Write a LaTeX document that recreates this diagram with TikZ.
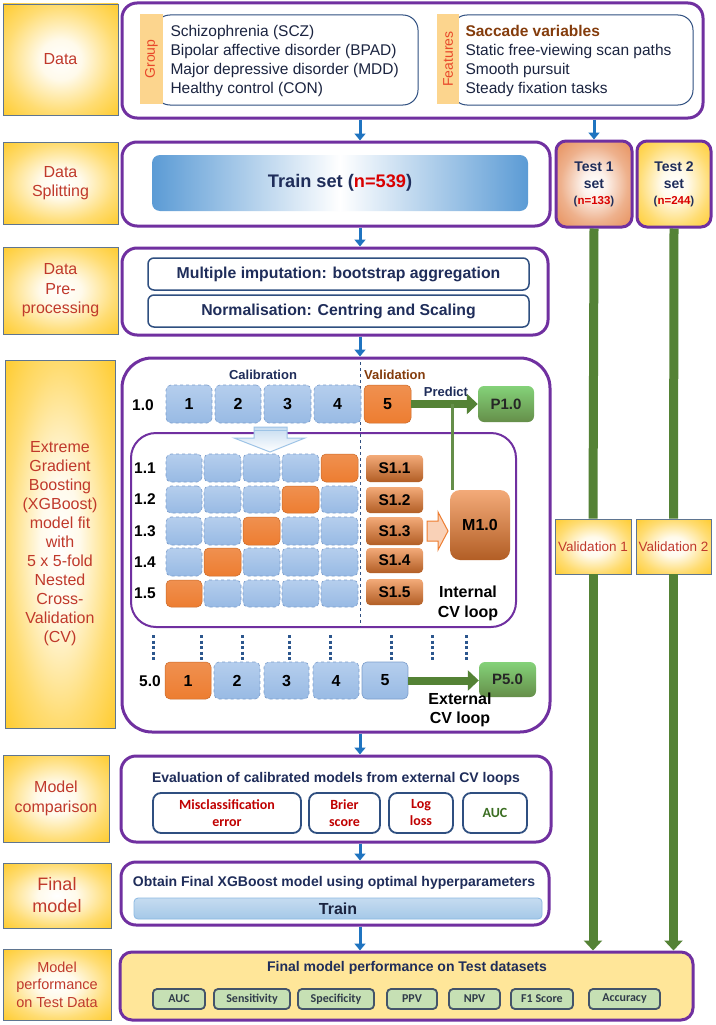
\documentclass[tikz,border=0pt]{standalone}
\usepackage{fontspec}
\usepackage{graphicx}
\setmainfont{Liberation Sans}
\newfontfamily\calib{Carlito}
\usetikzlibrary{arrows.meta}
\definecolor{purp}{HTML}{7030A0}
\definecolor{lblred}{HTML}{C0392B}
\definecolor{navy}{HTML}{1F2D5A}
\definecolor{txtnavy}{HTML}{1B2440}
\definecolor{gold}{HTML}{FFC000}
\definecolor{salmon}{HTML}{E5874F}
\definecolor{arrblue}{HTML}{1F74C0}
\definecolor{grn}{HTML}{548235}
\definecolor{orng}{HTML}{ED7D31}
\definecolor{brn}{HTML}{843C0C}
\definecolor{boxnavy}{HTML}{2F4F80}
\definecolor{lblborder}{HTML}{5F7590}
\definecolor{tabfill}{HTML}{FCD58E}
\definecolor{tabtext}{HTML}{E8472A}
\definecolor{perffill}{HTML}{FFE699}
\definecolor{metfill}{HTML}{C6E0B4}
\definecolor{metedge}{HTML}{44546A}
\definecolor{redtxt}{HTML}{C00000}
\definecolor{grntxt}{HTML}{3B6E22}
\definecolor{trainblue}{HTML}{5B9BD5}
\definecolor{foldtop}{HTML}{B5CEED}
\definecolor{foldbot}{HTML}{98BAE4}
\definecolor{foldedge}{HTML}{7A9CCB}
\pgfdeclareradialshading{glowgold}{\pgfpoint{0bp}{0bp}}{color(0bp)=(white); color(9bp)=(white!92!gold); color(24bp)=(gold!55!white); color(40bp)=(gold!92!white); color(50bp)=(gold)}
\pgfdeclareradialshading{gloworange}{\pgfpoint{0bp}{0bp}}{color(0bp)=(white); color(8bp)=(white!88!salmon); color(22bp)=(salmon!65!white); color(36bp)=(salmon!95!white); color(50bp)=(salmon)}
\newcommand\B[6]{\node[inner sep=0pt,#1,minimum width={(#4)-(#2)},minimum height={(#5)-(#3)}] (#6) at ({((#2)+(#4))/2},{((#3)+(#5))/2})}
\begin{document}
\begin{tikzpicture}[x=1pt,y=-1pt,
  lbl/.style={shading=glowgold,draw=lblborder,line width=0.8pt,text=lblred,align=center,font=\fontsize{16}{19.5}\selectfont},
  pbox/.style={draw=purp,line width=3pt,rounded corners=15pt,fill=white},
  ibox/.style={draw=boxnavy,line width=1.5pt,rounded corners=6pt,fill=white,text=navy,font=\bfseries\fontsize{15.8}{19}\selectfont},
  gbox/.style={draw=boxnavy,line width=1pt,rounded corners=15pt,fill=white},
  tabbox/.style={fill=tabfill,text=tabtext,font=\fontsize{14}{14}\selectfont},
  listtxt/.style={anchor=west,align=left,text=txtnavy,font=\fontsize{15.5}{19}\selectfont},
  testbox/.style={draw=purp,line width=3pt,rounded corners=10pt,text=navy,align=center,font=\bfseries\fontsize{14}{17}\selectfont},
  valbox/.style={shading=glowgold,draw=lblborder,line width=0.8pt,text=lblred,font=\fontsize{13.5}{15}\selectfont},
  fbl/.style={draw=foldedge,dashed,line width=0.6pt,top color=foldtop,bottom color=foldbot,rounded corners=5pt,font=\bfseries\fontsize{16}{16}\selectfont},
  forg/.style={draw=orng!85!black,line width=0.5pt,top color=orng!85!white,bottom color=orng,rounded corners=5pt,font=\bfseries\fontsize{16}{16}\selectfont},
  sbox/.style={top color=orng!65!white,bottom color=orng!75!black,rounded corners=4pt,font=\bfseries\fontsize{15.5}{16}\selectfont},
  pgrn/.style={top color=grn!60!green!60!white,bottom color=grn!90!white,rounded corners=6pt,text=black!85,font=\bfseries\fontsize{15}{16}\selectfont},
  rowlbl/.style={font=\bfseries\fontsize{15.5}{16}\selectfont},
  mbox/.style={draw=boxnavy,line width=1.8pt,rounded corners=8pt,fill=white,align=center,font=\calib\bfseries\fontsize{14}{17}\selectfont},
  pmet/.style={fill=metfill,draw=metedge,line width=1.8pt,rounded corners=4pt,text=metedge!70!black,font=\calib\bfseries\fontsize{12}{12}\selectfont},
  barrow/.style={draw=arrblue,line width=3pt,-{Triangle[length=7pt,width=11pt]}},
  garrow/.style={draw=grn,line width=9pt,-{Triangle[length=10pt,width=18pt]}},
  gline/.style={draw=grn,line width=9pt},
  parrow/.style={draw=grn,line width=8pt,-{Triangle[length=11pt,width=20pt]}},
  dotline/.style={draw=boxnavy!80!arrblue,line width=3pt,dash pattern=on 3pt off 2.5pt}
]
\useasboundingbox (0,0) rectangle (715,1025);
\fill[white] (0,0) rectangle (715,1025);
\coordinate (ax) at (360,0);

% ---------- left labels
\B{lbl}{3}{4}{118}{115}{Ldata} {Data};
\B{lbl}{3}{142}{118}{224}{Lsplit} {Data\\Splitting};
\B{lbl}{3}{247}{118}{334}{Lpre} {Data\\Pre-\\processing};
\B{lbl,font=\fontsize{16}{19}\selectfont}{5}{360}{115}{728}{Lxgb} {Extreme\\Gradient\\Boosting\\(XGBoost)\\model fit\\with\\5 x 5-fold\\Nested\\Cross-\\Validation\\(CV)};
\B{lbl}{3}{755}{109}{842}{Lmc} {Model\\comparison};
\B{lbl,font=\fontsize{18}{22}\selectfont}{3}{863}{111}{928}{Lfin} {Final\\model};
\B{lbl,font=\fontsize{14.5}{17.5}\selectfont}{3}{949}{111}{1020}{Lperf} {Model\\performance\\on Test Data};

% ---------- Data row
\B{pbox}{122}{3}{703}{118}{Data} {};
\B{gbox}{155}{15}{418}{105}{Gbox} {};
\B{tabbox}{140}{14}{163}{104}{Gtab} {\rotatebox{90}{Group}};
\node[listtxt] (Gtxt) at (167,60.5) {Schizophrenia (SCZ)\\Bipolar affective disorder (BPAD)\\Major depressive disorder (MDD)\\Healthy control (CON)};
\B{gbox}{452}{15}{693}{105}{Fbox} {};
\B{tabbox}{437}{14}{459}{104}{Ftab} {\rotatebox{90}{Features}};
\node[listtxt] (Ftxt) at (462,60.5) {\textcolor{brn}{\bfseries Saccade variables}\\Static free-viewing scan paths\\Smooth pursuit\\Steady fixation tasks};

% ---------- Splitting row
\B{pbox}{122}{142}{550}{226}{Split} {};
\B{rounded corners=8pt,left color=trainblue,right color=trainblue,middle color=white,text=navy,font=\bfseries\fontsize{18.2}{20}\selectfont}{152}{155}{528}{211}{Train} {Train set (\textcolor{red!85!black}{n=539})};
\B{testbox,shading=gloworange}{556}{141}{632}{227}{Test1} {Test 1\\set\\[-1pt]{\fontsize{11.5}{13}\selectfont(\textcolor{red!85!black}{n=133})}};
\B{testbox,shading=glowgold}{637}{141}{711}{227}{Test2} {Test 2\\set\\[-1pt]{\fontsize{11.5}{13}\selectfont(\textcolor{red!85!black}{n=244})}};

% ---------- Pre-processing row
\B{pbox}{122}{248}{548}{335}{Pre} {};
\B{ibox}{148}{258}{529}{290}{Imp} {Multiple imputation: bootstrap aggregation};
\B{ibox}{148}{295}{529}{327}{Norm} {Normalisation: Centring and Scaling};

% ---------- XGBoost block
\B{pbox,rounded corners=30pt}{122}{358}{550}{732}{Xgb} {};
\B{draw=purp,line width=2pt,rounded corners=25pt}{131}{433}{516}{627}{Inner} {};
\draw[draw=boxnavy,dashed,line width=0.7pt] (360,362) -- (360,627);
\node[text=navy,font=\bfseries\fontsize{13}{14}\selectfont] (calib) at (263,375) {Calibration};
\node[anchor=west,inner sep=0pt,text=brn,font=\bfseries\fontsize{13}{14}\selectfont] (valid) at (364,375) {Validation};
\node[text=navy,font=\bfseries\fontsize{13}{14}\selectfont] (pred) at (446,392) {Predict};

\node[rowlbl] (r10) at (143,405) {1.0};
\B{fbl}{166}{385}{212}{423}{f01} {1};
\B{fbl}{215}{385}{261}{423}{f02} {2};
\B{fbl}{264}{385}{311}{423}{f03} {3};
\B{fbl}{314}{385}{361}{423}{f04} {4};
\B{forg}{364}{385}{411}{423}{f05} {5};
\B{pgrn}{478}{386}{534}{422}{P10} {P1.0};

% chevron
\draw[draw=trainblue!60!white,line width=1pt,top color=trainblue!35!white,bottom color=white]
  (254,427) -- (287,427) -- (287,438) -- (305,438) -- (270,452) -- (234,438) -- (254,438) -- cycle;
\draw[draw=trainblue!60!white,line width=0.8pt] (254,430.5) -- (287,430.5);

% inner grid
\foreach \r/\ya/\yb/\lab/\o in {1/454/482/1.1/5,2/486/513/1.2/4,3/517/545/1.3/3,4/548/576/1.4/2,5/580/607/1.5/1}{
  \node[rowlbl] (r1\r) at (145,{(\ya+\yb)/2}) {\lab};
  \foreach \c/\xa/\xb in {1/166/202,2/204/241,3/243/280,4/282/319,5/321/358}{
    \ifnum\c=\o
      \B{forg}{\xa}{\ya}{\xb}{\yb}{g\r\c} {};
    \else
      \B{fbl}{\xa}{\ya}{\xb}{\yb}{g\r\c} {};
    \fi
  }
}
\B{sbox}{366}{455}{423}{482}{S11} {S1.1};
\B{sbox}{366}{487}{423}{513}{S12} {S1.2};
\B{sbox}{366}{517}{423}{545}{S13} {S1.3};
\B{sbox}{366}{548}{423}{573}{S14} {S1.4};
\B{sbox}{366}{579}{423}{605}{S15} {S1.5};
\B{sbox,rounded corners=10pt,font=\bfseries\fontsize{16}{16}\selectfont}{450}{490}{510}{560}{M10} {M1.0};
\draw[draw=orng,line width=1pt,fill=orng!35!white]
  (427,521) -- (438,521) -- (438,512) -- (448,531) -- (438,550) -- (438,541) -- (427,541) -- cycle;
\node[align=center,font=\bfseries\fontsize{16}{20}\selectfont] (intcv) at (468,603) {Internal\\CV loop};

% dots
\foreach \x in {153,201,242,289,330,391,432,466}
  \draw[dotline] (\x,635) -- (\x,660);

% 5.0 row
\node[rowlbl] (r50) at (150,681) {5.0};
\B{forg}{165}{662}{211}{699}{h1} {1};
\B{fbl}{214}{662}{260}{699}{h2} {2};
\B{fbl}{264}{662}{309}{699}{h3} {3};
\B{fbl}{313}{662}{359}{699}{h4} {4};
\B{fbl,solid}{362}{662}{408}{699}{h5} {5};
\B{pgrn}{479}{662}{536}{697}{P50} {P5.0};
\node[align=center,font=\bfseries\fontsize{16}{19}\selectfont] (extcv) at (460,710) {External\\CV loop};

% XGB arrows
\draw[parrow] (f05.east) -- (f05.east -| P10.west);
\draw[draw=grn!90!white,line width=3pt] ([xshift=3pt]M10.north west) -- ([xshift=3pt]M10.north west |- f05.east);
\draw[parrow] (h5.east) -- (h5.east -| P50.west);

% ---------- Model comparison
\B{pbox}{121}{756}{551}{842}{Mc} {};
\node[text=navy,font=\bfseries\fontsize{14}{16}\selectfont] (evt) at (336,779) {Evaluation of calibrated models from external CV loops};
\B{mbox,text=redtxt}{153}{793}{301}{833}{m1} {Misclassification\\error};
\B{mbox,text=redtxt}{309}{793}{380}{833}{m2} {Brier\\score};
\B{mbox,text=redtxt}{389}{793}{453}{833}{m3} {Log\\loss};
\B{mbox,text=grntxt}{463}{793}{527}{833}{m4} {AUC};

% ---------- Final model
\B{pbox}{121}{862}{549}{925}{Fin} {};
\node[text=navy,font=\bfseries\fontsize{14}{16}\selectfont] (obt) at (334,883) {Obtain Final XGBoost model using optimal hyperparameters};
\B{draw=trainblue!70!white,line width=0.8pt,rounded corners=4pt,top color=trainblue!35!white,bottom color=trainblue!55!white,text=txtnavy,font=\bfseries\fontsize{16}{16}\selectfont}{134}{898}{542}{919}{Tr} {Train};

% ---------- Performance
\B{pbox,fill=perffill,rounded corners=12pt}{120}{952}{693}{1020}{Perf} {};
\node[text=navy,font=\bfseries\fontsize{14}{16}\selectfont] (pft) at (407,968) {Final model performance on Test datasets};
\B{pmet}{153}{989}{205}{1009}{q1} {AUC};
\B{pmet}{214}{989}{290}{1009}{q2} {Sensitivity};
\B{pmet}{298}{989}{374}{1009}{q3} {Specificity};
\B{pmet}{387}{989}{437}{1009}{q4} {PPV};
\B{pmet}{449}{989}{500}{1009}{q5} {NPV};
\B{pmet}{511}{989}{573}{1009}{q6} {F1 Score};
\B{pmet}{589}{989}{660}{1009}{q7} {Accuracy};

% ---------- Validation boxes and green lines
\B{valbox}{555}{519}{631}{574}{V1} {Validation 1};
\B{valbox}{636}{519}{711}{574}{V2} {Validation 2};
\draw[gline] (Test1.south) -- (V1.north);
\draw[gline] (Test2.south) -- (V2.north);
\draw[garrow] (V1.south) -- (V1.south |- Perf.north);
\draw[garrow] (V2.south) -- (V2.south |- Perf.north);

% ---------- blue arrows
\draw[barrow] (Data.south -| ax) -- (Split.north -| ax);
\draw[barrow] (Data.south -| Test1.north) -- (Test1.north);
\draw[barrow] (Split.south -| ax) -- (Pre.north -| ax);
\draw[barrow] (Pre.south -| ax) -- (Xgb.north -| ax);
\draw[barrow] (Xgb.south -| ax) -- (Mc.north -| ax);
\draw[barrow] (Mc.south -| ax) -- (Fin.north -| ax);
\draw[barrow] (Fin.south -| ax) -- (Perf.north -| ax);
\end{tikzpicture}
\end{document}
